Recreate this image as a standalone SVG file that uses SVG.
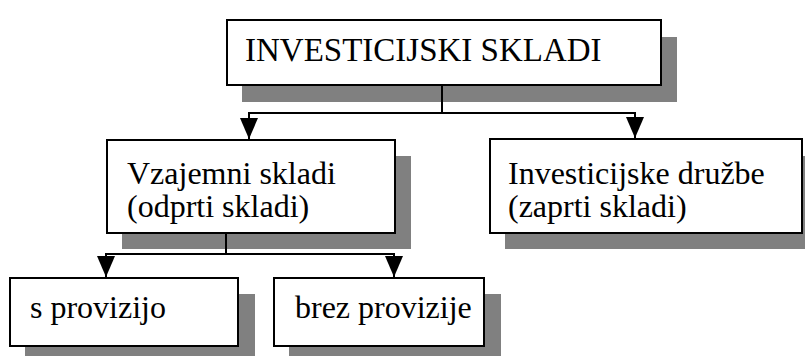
<svg xmlns="http://www.w3.org/2000/svg" width="805" height="356" viewBox="0 0 805 356">
<style>
.sh{fill:#808080;stroke:none}
.bx{fill:#fff;stroke:#000;stroke-width:2}
.t{font-family:'Liberation Serif','Times New Roman',serif;font-size:32px;fill:#000}
.ln{fill:none;stroke:#000;stroke-width:2}
</style>
<defs>
<marker id="ah" viewBox="0 0 21 18" refX="21" refY="9" markerWidth="21" markerHeight="18" markerUnits="userSpaceOnUse" orient="auto">
<path d="M0,0 L21,9 L0,18 Z" fill="#000"/>
</marker>
</defs>
<rect width="805" height="356" fill="#fff"/>
<g id="n-top">
<rect class="sh" x="242" y="37" width="435" height="65"/>
<rect class="bx" x="227" y="20" width="434" height="65"/>
<text class="t" x="245" y="61" style="font-size:33px">INVESTICIJSKI SKLADI</text>
</g>
<g id="n-vzajemni">
<rect class="sh" x="122" y="156" width="289" height="93"/>
<rect class="bx" x="107" y="140" width="288" height="93"/>
<text class="t" x="127" y="184">Vzajemni skladi</text>
<text class="t" x="127" y="217">(odprti skladi)</text>
</g>
<g id="n-druzbe">
<rect class="sh" x="505" y="156" width="300" height="93"/>
<rect class="bx" x="490" y="139" width="312" height="94"/>
<text class="t" x="508" y="184">Investicijske družbe</text>
<text class="t" x="508" y="217">(zaprti skladi)</text>
</g>
<g id="n-s">
<rect class="sh" x="25" y="294" width="230" height="70"/>
<rect class="bx" x="10" y="278" width="228" height="68"/>
<text class="t" x="30" y="318">s provizijo</text>
</g>
<g id="n-brez">
<rect class="sh" x="289" y="294" width="212" height="70"/>
<rect class="bx" x="274" y="278" width="210" height="68"/>
<text class="t" x="295" y="318">brez provizije</text>
</g>
<g id="connectors">
<path class="ln" d="M442,86 V113"/>
<path class="ln" d="M442,113 H249 V139" marker-end="url(#ah)"/>
<path class="ln" d="M442,113 H635 V138" marker-end="url(#ah)"/>
<path class="ln" d="M226,234 V254"/>
<path class="ln" d="M226,254 H106 V277" marker-end="url(#ah)"/>
<path class="ln" d="M226,254 H394 V277" marker-end="url(#ah)"/>
</g>
</svg>
